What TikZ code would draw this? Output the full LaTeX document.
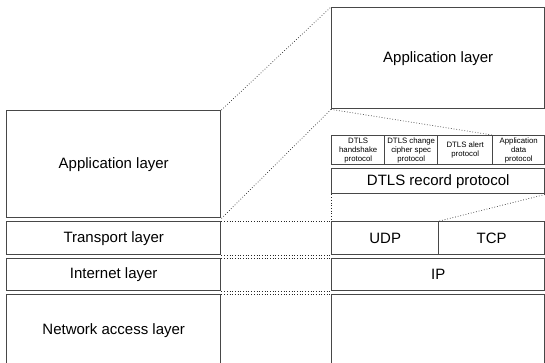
\documentclass[tikz,border=0pt]{standalone}
\usepackage{fontspec}
\setmainfont{Liberation Sans}
\begin{document}
\begin{tikzpicture}[x=1pt,y=-1pt,
  box/.style={draw=black!72, line width=1.4pt, inner sep=0pt, anchor=north west,
    font=\fontsize{15}{18}\selectfont},
  small/.style={box, align=center, font=\fontsize{7.8}{9}\selectfont},
  conn/.style={dotted, line width=0.7pt, black!85}]
\clip (0,0) rectangle (545,363);
% left column
\node[box, minimum width=214pt, minimum height=107pt] (lapp) at (6,110) {Application layer};
\node[box, minimum width=214pt, minimum height=33pt] (ltr) at (6,221) {Transport layer};
\node[box, minimum width=214pt, minimum height=32pt] (lint) at (6,258) {Internet layer};
\node[box, minimum width=214pt, minimum height=72pt] (lnet) at (6,294) {Network access layer};
% right column
\node[box, minimum width=213pt, minimum height=101pt] (rapp) at (331,7) {Application layer};
\node[small, minimum width=53pt, minimum height=29pt] (hs) at (331,135) {DTLS\\handshake\\protocol};
\node[small, minimum width=53pt, minimum height=29pt] (ccs) at (384,135) {DTLS change\\cipher spec\\protocol};
\node[small, minimum width=55pt, minimum height=29pt] (al) at (437,135) {DTLS alert\\protocol};
\node[small, minimum width=52pt, minimum height=29pt] (ad) at (492,135) {Application\\data\\protocol};
\node[box, minimum width=213pt, minimum height=25pt] (rec) at (331,168) {DTLS record protocol};
\node[box, minimum width=107pt, minimum height=33pt] (udp) at (331,221) {UDP};
\node[box, minimum width=106pt, minimum height=33pt] (tcp) at (438,221) {TCP};
\node[box, minimum width=213pt, minimum height=32pt] (ip) at (331,258) {IP};
\node[box, minimum width=213pt, minimum height=72pt] (rnet) at (331,294) {};
% dotted connectors
\draw[conn] (lapp.north east) -- (rapp.north west);
\draw[conn] (lapp.south east) -- (rapp.south west);
\draw[conn] (rapp.south west) -- (ad.north west);
\draw[conn] (rec.south west) -- (udp.north west);
\draw[conn] (udp.north east) -- (rec.south east);
\draw[conn] (ltr.north east) -- (udp.north west);
\draw[conn] (ltr.south east) -- (udp.south west);
\draw[conn] (lint.north east) -- (ip.north west);
\draw[conn] (lint.south east) -- (ip.south west);
\draw[conn] (lnet.north east) -- (rnet.north west);
\end{tikzpicture}
\end{document}
